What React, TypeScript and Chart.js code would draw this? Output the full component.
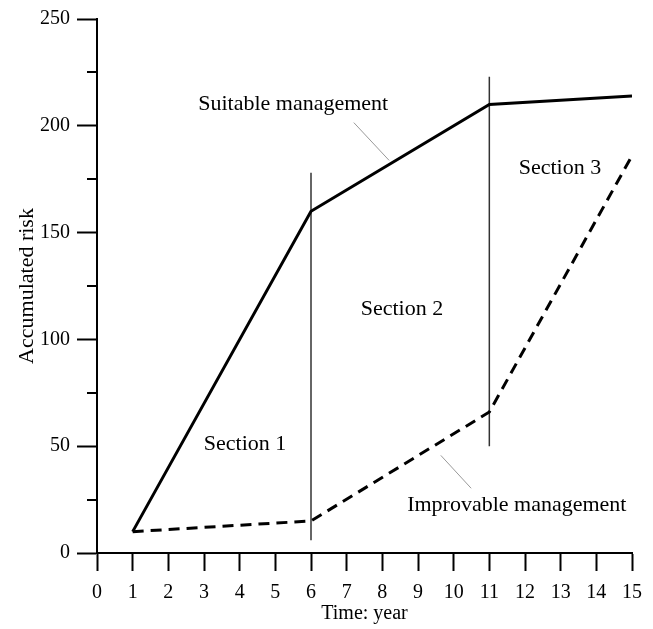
import React, { useEffect, useRef } from "react";
import { Chart, registerables } from "chart.js";

Chart.register(...registerables);

const years = [1, 6, 11, 15];
const suitable = [10, 160, 210, 214];
const improvable = [10, 15, 66, 186];
const xTicks = [0, 1, 2, 3, 4, 5, 6, 7, 8, 9, 10, 11, 12, 13, 14, 15];
const yMajorTicks = [0, 50, 100, 150, 200, 250];
const yMinorTicks = [25, 75, 125, 175, 225];
const dividerX = [6, 11];
const dividerYStart = [6, 50];
const dividerYEnd = [178, 223];
const sectionLabels = ["Section 1", "Section 2", "Section 3"];
const sectionX = [4.15, 8.55, 12.98];
const sectionY = [51, 114, 180];
const seriesLabels = ["Suitable management", "Improvable management"];
const seriesLabelX = [5.5, 11.77];
const seriesLabelY = [210, 22.5];
const leaderStartX = [7.2, 9.64];
const leaderStartY = [201.5, 45.7];
const leaderEndX = [8.19, 10.49];
const leaderEndY = [183.8, 30.3];

const FONT = "'Liberation Serif', 'Times New Roman', serif";

export default function App() {
  const ref = useRef<HTMLCanvasElement | null>(null);
  useEffect(() => {
    if (!ref.current) return;
    const datasets: any[] = [
      {
        label: seriesLabels[0],
        data: years.map((x, i) => ({ x, y: suitable[i] })),
        borderColor: "#000",
        borderWidth: 3,
        pointRadius: 0,
        tension: 0,
      },
      {
        label: seriesLabels[1],
        data: years.map((x, i) => ({ x, y: improvable[i] })),
        borderColor: "#000",
        borderWidth: 3,
        borderDash: [11, 7],
        pointRadius: 0,
        tension: 0,
      },
    ];
    dividerX.forEach((x, i) => {
      datasets.push({
        label: "divider" + i,
        data: [
          { x, y: dividerYStart[i] },
          { x, y: dividerYEnd[i] },
        ],
        borderColor: "#333",
        borderWidth: 1.5,
        pointRadius: 0,
      });
    });
    leaderStartX.forEach((x, i) => {
      datasets.push({
        label: "leader" + i,
        data: [
          { x, y: leaderStartY[i] },
          { x: leaderEndX[i], y: leaderEndY[i] },
        ],
        borderColor: "#999",
        borderWidth: 1,
        pointRadius: 0,
      });
    });

    const textPlugin = {
      id: "texts",
      afterDatasetsDraw(chart: any) {
        const { ctx, scales } = chart;
        const xs = scales.x;
        const ys = scales.y;
        ctx.save();
        ctx.fillStyle = "#000";
        ctx.textAlign = "center";
        ctx.textBaseline = "middle";
        ctx.font = `22px ${FONT}`;
        sectionLabels.forEach((t, i) => {
          ctx.fillText(t, xs.getPixelForValue(sectionX[i]), ys.getPixelForValue(sectionY[i]));
        });
        seriesLabels.forEach((t, i) => {
          ctx.fillText(t, xs.getPixelForValue(seriesLabelX[i]), ys.getPixelForValue(seriesLabelY[i]));
        });
        // minor y ticks
        ctx.strokeStyle = "#000";
        ctx.lineWidth = 2;
        const left = chart.chartArea.left;
        yMinorTicks.forEach((v) => {
          const py = Math.round(ys.getPixelForValue(v));
          ctx.beginPath();
          ctx.moveTo(left - 10, py);
          ctx.lineTo(left, py);
          ctx.stroke();
        });
        ctx.restore();
      },
    };

    const chart = new Chart(ref.current, {
      type: "line",
      data: { datasets },
      options: {
        animation: false,
        responsive: false,
        maintainAspectRatio: false,
        layout: { padding: { top: 17, right: 21, left: 0, bottom: 0 } },
        plugins: { legend: { display: false }, tooltip: { enabled: false } },
        scales: {
          x: {
            type: "linear",
            min: 0,
            max: 15,
            afterFit: (s: any) => {
              s.height = 76;
            },
            afterBuildTicks: (s: any) => {
              s.ticks = xTicks.map((v) => ({ value: v }));
            },
            border: { display: true, color: "#000", width: 2 },
            grid: {
              drawOnChartArea: false,
              drawTicks: true,
              tickLength: 18,
              tickWidth: 2,
              tickColor: "#000",
            },
            ticks: {
              color: "#000",
              font: { family: FONT, size: 20 },
              padding: 10,
              maxRotation: 0,
              autoSkip: false,
            },
            title: {
              display: true,
              text: "Time: year",
              color: "#000",
              font: { family: FONT, size: 20 },
              padding: { top: 0, bottom: 3 },
            },
          },
          y: {
            type: "linear",
            min: 0,
            max: 250,
            afterFit: (s: any) => {
              s.width = 97;
            },
            afterBuildTicks: (s: any) => {
              s.ticks = yMajorTicks.map((v) => ({ value: v }));
            },
            border: { display: true, color: "#000", width: 2 },
            grid: {
              drawOnChartArea: false,
              drawTicks: true,
              tickLength: 20,
              tickWidth: 2,
              tickColor: "#000",
            },
            ticks: {
              color: "#000",
              font: { family: FONT, size: 20 },
              padding: 7,
              autoSkip: false,
            },
            title: {
              display: true,
              text: "Accumulated risk",
              color: "#000",
              font: { family: FONT, size: 22 },
              padding: { top: 14, bottom: 0 },
            },
          },
        },
      },
      plugins: [textPlugin],
    });
    return () => chart.destroy();
  }, []);

  return (
    <div style={{ position: "fixed", left: 0, top: 0, width: 653, height: 629, background: "#fff" }}>
      <canvas ref={ref} width={653} height={629} style={{ width: 653, height: 629 }} />
    </div>
  );
}
